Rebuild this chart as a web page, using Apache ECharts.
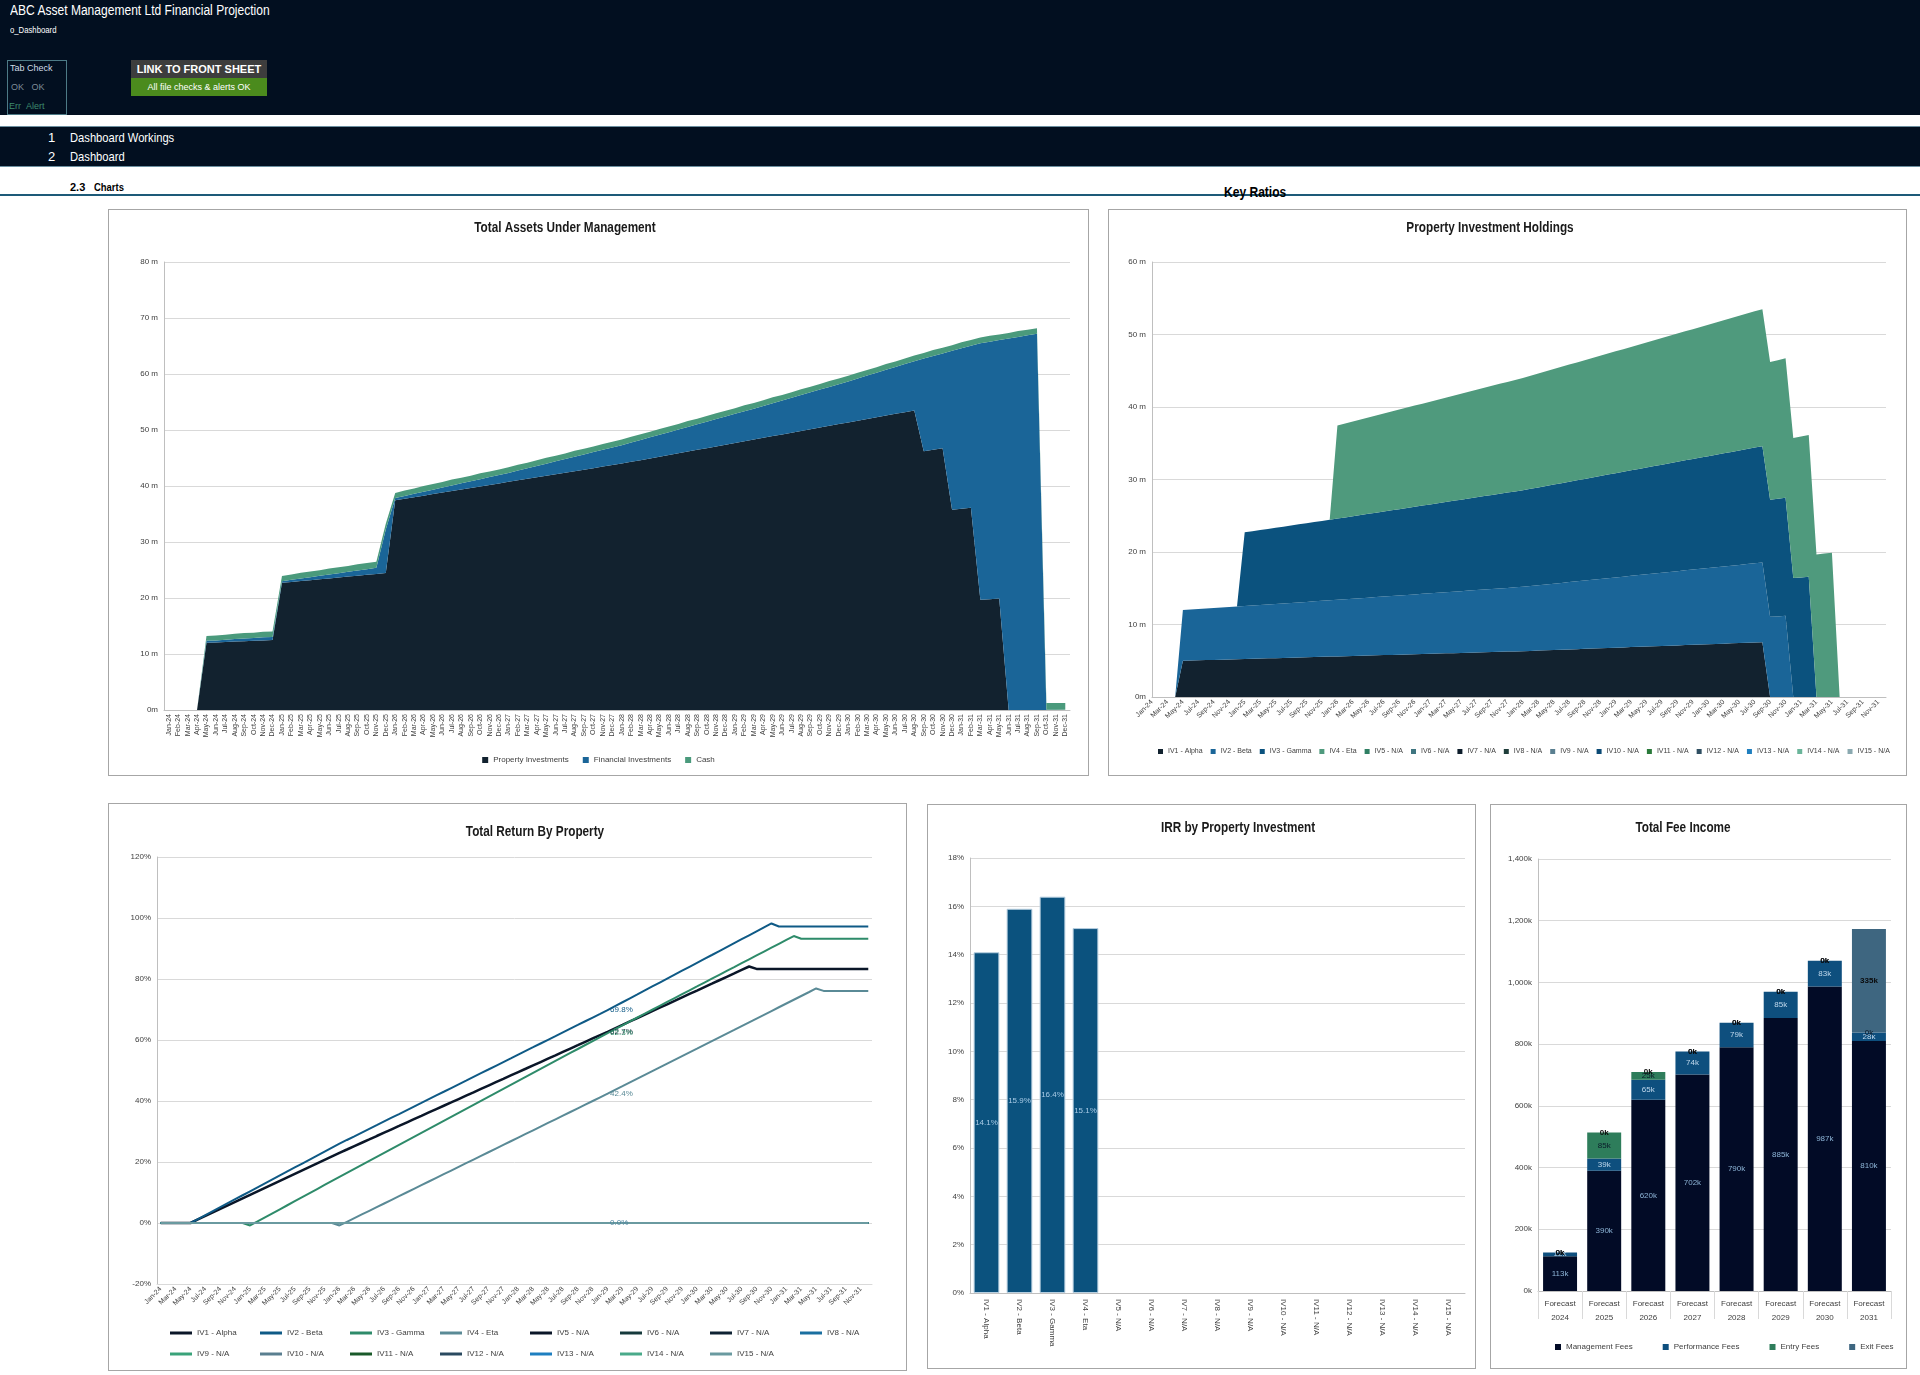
<!DOCTYPE html>
<html><head><meta charset="utf-8">
<script src="https://cdn.jsdelivr.net/npm/echarts@6/dist/echarts.min.js"></script>
<style>
body{margin:0;width:1920px;height:1375px;background:#fff;position:relative;overflow:hidden;font-family:"Liberation Sans",Arial,sans-serif;}
.abs{position:absolute;white-space:nowrap;}
.nar{transform:scaleX(0.86);transform-origin:0 0;}
.box{position:absolute;border:1px solid #a6a6a6;box-sizing:border-box;background:#fff;}
</style></head><body>
<div class="abs" style="left:0;top:0;width:1920px;height:115px;background:#020f20;"></div>
<div class="abs nar" style="left:10px;top:2px;font-size:14px;color:#fff;">ABC Asset Management Ltd Financial Projection</div>
<div class="abs nar" style="left:10px;top:25px;font-size:9px;color:#fff;">o_Dashboard</div>
<div class="abs" style="left:7px;top:60px;width:60px;height:55px;border:1px solid #4d7a86;box-sizing:border-box;"></div>
<div class="abs" style="left:10px;top:63px;font-size:9px;color:#d0dce6;">Tab Check</div>
<div class="abs" style="left:11px;top:82px;font-size:9px;color:#7d8b97;">OK&nbsp;&nbsp;&nbsp;OK</div>
<div class="abs" style="left:9px;top:101px;font-size:9px;color:#3d8c6e;">Err&nbsp;&nbsp;Alert</div>
<div class="abs" style="left:131px;top:60px;width:136px;height:18px;background:#3d3d3d;color:#fff;font-weight:bold;font-size:11px;line-height:18px;text-align:center;">LINK TO FRONT SHEET</div>
<div class="abs" style="left:131px;top:78px;width:136px;height:18px;background:#4b8b1d;color:#fff;font-size:9px;line-height:18px;text-align:center;">All file checks &amp; alerts OK</div>
<div class="abs" style="left:0;top:126px;width:1920px;height:41px;background:#020f20;border-top:1px solid #6c8fa0;border-bottom:1px solid #6c8fa0;box-sizing:border-box;"></div>
<div class="abs" style="left:48px;top:130px;font-size:13px;color:#fff;">1</div>
<div class="abs nar" style="left:70px;top:130px;font-size:13px;color:#fff;">Dashboard Workings</div>
<div class="abs" style="left:48px;top:149px;font-size:13px;color:#fff;">2</div>
<div class="abs nar" style="left:70px;top:149px;font-size:13px;color:#fff;">Dashboard</div>
<div class="abs" style="left:70px;top:181px;font-size:11px;font-weight:bold;color:#000;">2.3</div>
<div class="abs nar" style="left:94px;top:181px;font-size:11px;font-weight:bold;color:#000;">Charts</div>
<div class="abs" style="left:0;top:194px;width:1920px;height:2px;background:#1d5a78;"></div>
<div class="abs nar" style="left:1224px;top:184px;font-size:14px;font-weight:bold;color:#000;">Key Ratios</div>

<div class="box" id="c1" style="left:108px;top:209px;width:981px;height:567px;"></div>
<div class="box" id="c2" style="left:1108px;top:209px;width:799px;height:567px;"></div>
<div class="box" id="c3" style="left:108px;top:803px;width:799px;height:568px;"></div>
<div class="box" id="c4" style="left:927px;top:804px;width:549px;height:565px;"></div>
<div class="box" id="c5" style="left:1490px;top:804px;width:417px;height:565px;"></div>

<script>
const FONT = '"Liberation Sans",Arial,sans-serif';

// ---------- categories ----------
const MONTH_NAMES = ['Jan','Feb','Mar','Apr','May','Jun','Jul','Aug','Sep','Oct','Nov','Dec'];
const YEAR_SUFFIXES = ['24','25','26','27','28','29','30','31'];
const MONTH_LABELS = [];
YEAR_SUFFIXES.forEach(y => MONTH_NAMES.forEach(m => MONTH_LABELS.push(m + '-' + y)));

const PROPERTY_NAMES = ['IV1 - Alpha','IV2 - Beta','IV3 - Gamma','IV4 - Eta','IV5 - N/A','IV6 - N/A','IV7 - N/A','IV8 - N/A','IV9 - N/A','IV10 - N/A','IV11 - N/A','IV12 - N/A','IV13 - N/A','IV14 - N/A','IV15 - N/A'];
const AUM_NAMES = ['Property Investments','Financial Investments','Cash'];
const FEE_NAMES = ['Management Fees','Performance Fees','Entry Fees','Exit Fees'];
const FEE_CATS = ['Forecast\n2024','Forecast\n2025','Forecast\n2026','Forecast\n2027','Forecast\n2028','Forecast\n2029','Forecast\n2030','Forecast\n2031'];

// ---------- Total AUM (m) ----------
const AUM_PROPERTY = [
0,0,0,0,12.00,12.07,12.14,12.21,12.28,12.35,12.42,12.49,
22.71,22.87,23.03,23.18,23.34,23.50,23.66,23.82,23.97,24.13,24.29,24.45,
37.46,37.73,38.01,38.28,38.55,38.83,39.10,39.37,39.64,39.92,40.19,40.46,
40.74,41.01,41.28,41.56,41.83,42.10,42.37,42.65,42.92,43.19,43.47,43.74,
44.01,44.32,44.62,44.93,45.23,45.54,45.85,46.15,46.46,46.76,47.07,47.38,
47.68,47.99,48.29,48.60,48.91,49.21,49.52,49.82,50.13,50.44,50.74,51.05,
51.35,51.66,51.97,52.27,52.58,52.88,53.19,53.50,46.20,46.46,46.73,35.74,
35.94,36.13,19.67,19.78,19.89,0,0,0,0,0,0,0];
const AUM_FINANCIAL = [
0,0,0,0,0.40,0.35,0.40,0.45,0.50,0.50,0.55,0.55,
0.30,0.38,0.46,0.54,0.62,0.70,0.78,0.86,0.94,1.02,1.10,7.80,
0.40,0.50,0.60,0.70,0.80,0.90,1.00,1.10,1.20,1.30,1.40,1.50,
1.60,1.74,1.88,2.02,2.16,2.30,2.44,2.58,2.72,2.86,3.00,3.14,
3.28,3.44,3.60,3.76,3.92,4.08,4.24,4.40,4.56,4.72,4.88,5.04,
5.20,5.36,5.52,5.70,5.88,6.06,6.24,6.42,6.60,6.78,6.96,7.14,
7.32,7.53,7.74,7.95,8.16,8.37,8.58,8.79,16.56,16.76,16.95,28.40,
28.66,28.93,45.83,46.00,46.17,66.34,66.62,66.90,67.18,0.05,0.05,0.05];
const AUM_CASH = [
0,0,0,0,0.80,0.90,0.90,0.95,0.95,0.95,1.00,1.00,
0.90,0.95,1.00,1.00,1.00,1.05,1.05,1.05,1.10,1.10,1.10,1.00,
0.90,0.95,0.95,1.00,1.00,1.00,1.05,1.00,1.00,1.05,1.00,1.00,
1.00,1.05,1.00,1.00,1.05,1.00,1.00,1.05,1.00,1.00,1.05,1.00,
1.00,1.05,1.00,1.00,1.05,1.00,1.00,1.05,1.00,1.00,1.05,1.00,
1.00,1.05,1.00,1.00,1.05,1.00,1.00,1.05,1.00,1.00,1.05,1.00,
1.00,1.05,1.00,1.00,1.05,1.00,1.00,1.00,1.00,1.05,1.00,1.00,
1.05,1.00,1.00,1.05,1.00,1.00,1.05,1.00,1.00,1.20,1.20,1.20];

// ---------- Property holdings (m) ----------
const HOLD_IV1 = [
0,0,0,0,5.00,5.03,5.06,5.09,5.12,5.15,5.18,5.21,
5.24,5.27,5.30,5.33,5.36,5.39,5.42,5.45,5.48,5.51,5.54,5.57,
5.60,5.63,5.66,5.69,5.72,5.75,5.78,5.81,5.84,5.87,5.90,5.93,
5.96,5.99,6.02,6.05,6.08,6.11,6.14,6.17,6.20,6.23,6.26,6.29,
6.32,6.36,6.40,6.44,6.48,6.52,6.56,6.60,6.64,6.68,6.72,6.76,
6.80,6.84,6.88,6.92,6.96,7.00,7.04,7.08,7.12,7.16,7.20,7.24,
7.28,7.32,7.36,7.40,7.44,7.48,7.52,7.56,0,0,0,0,
0,0,0,0,0,0,0,0,0,0,0,0];
const HOLD_IV2 = [
0,0,0,0,7.00,7.04,7.08,7.12,7.16,7.20,7.24,7.28,
7.32,7.36,7.40,7.44,7.48,7.52,7.56,7.60,7.64,7.68,7.72,7.76,
7.80,7.85,7.89,7.94,7.98,8.03,8.07,8.12,8.16,8.21,8.25,8.30,
8.34,8.39,8.43,8.48,8.52,8.57,8.61,8.66,8.70,8.75,8.79,8.84,
8.88,8.95,9.02,9.08,9.15,9.22,9.29,9.36,9.42,9.49,9.56,9.63,
9.70,9.76,9.83,9.90,9.97,10.04,10.10,10.17,10.24,10.31,10.38,10.44,
10.51,10.58,10.65,10.72,10.78,10.85,10.92,10.99,11.06,11.12,11.19,0,
0,0,0,0,0,0,0,0,0,0,0,0];
const HOLD_IV3 = [
0,0,0,0,0,0,0,0,0,0,0,0,
10.15,10.24,10.33,10.41,10.50,10.59,10.68,10.77,10.85,10.94,11.03,11.12,
11.21,11.29,11.38,11.47,11.56,11.65,11.73,11.82,11.91,12.00,12.09,12.17,
12.26,12.35,12.44,12.53,12.61,12.70,12.79,12.88,12.97,13.05,13.14,13.23,
13.32,13.41,13.49,13.58,13.67,13.76,13.85,13.93,14.02,14.11,14.20,14.29,
14.37,14.46,14.55,14.64,14.73,14.81,14.90,14.99,15.08,15.17,15.25,15.34,
15.43,15.52,15.61,15.69,15.78,15.87,15.96,16.05,16.13,16.22,16.31,16.40,
16.49,16.57,0,0,0,0,0,0,0,0,0,0];
const HOLD_IV4 = [
0,0,0,0,0,0,0,0,0,0,0,0,
0,0,0,0,0,0,0,0,0,0,0,0,
12.85,12.96,13.07,13.18,13.29,13.40,13.51,13.62,13.73,13.84,13.95,14.06,
14.17,14.28,14.39,14.50,14.61,14.72,14.83,14.94,15.05,15.16,15.27,15.38,
15.49,15.60,15.71,15.82,15.93,16.04,16.15,16.26,16.37,16.48,16.59,16.70,
16.81,16.92,17.03,17.14,17.25,17.36,17.47,17.58,17.69,17.80,17.91,18.02,
18.13,18.24,18.35,18.46,18.57,18.68,18.79,18.90,19.01,19.12,19.23,19.34,
19.45,19.56,19.67,19.78,19.89,0,0,0,0,0,0,0];
const ZERO_MONTHLY = [
0,0,0,0,0,0,0,0,0,0,0,0, 0,0,0,0,0,0,0,0,0,0,0,0,
0,0,0,0,0,0,0,0,0,0,0,0, 0,0,0,0,0,0,0,0,0,0,0,0,
0,0,0,0,0,0,0,0,0,0,0,0, 0,0,0,0,0,0,0,0,0,0,0,0,
0,0,0,0,0,0,0,0,0,0,0,0, 0,0,0,0,0,0,0,0,0,0,0,0];

// ---------- Total return (%) ----------
const RET_IV1 = [
0,0,0,0,0,1.15,2.30,3.45,4.60,5.75,6.90,8.05,
9.20,10.35,11.50,12.65,13.80,14.95,16.10,17.25,18.40,19.55,20.70,21.85,
23.00,24.10,25.21,26.31,27.41,28.52,29.62,30.72,31.82,32.93,34.03,35.13,
36.24,37.34,38.44,39.54,40.65,41.75,42.85,43.96,45.06,46.16,47.26,48.37,
49.47,50.57,51.68,52.78,53.88,54.98,56.09,57.19,58.29,59.40,60.50,61.60,
62.70,63.83,64.95,66.08,67.20,68.33,69.46,70.58,71.71,72.83,73.96,75.09,
76.21,77.34,78.46,79.59,80.72,81.84,82.97,84.10,83.30,83.30,83.30,83.30,
83.30,83.30,83.30,83.30,83.30,83.30,83.30,83.30,83.30,83.30,83.30,83.30];
const RET_IV2 = [
0,0,0,0,0,1.30,2.60,3.90,5.20,6.50,7.80,9.10,
10.40,11.70,13.00,14.30,15.60,16.90,18.20,19.50,20.80,22.10,23.40,24.70,
26.00,27.22,28.43,29.65,30.87,32.08,33.30,34.52,35.73,36.95,38.17,39.38,
40.60,41.82,43.03,44.25,45.47,46.68,47.90,49.12,50.33,51.55,52.77,53.98,
55.20,56.42,57.63,58.85,60.07,61.28,62.50,63.72,64.93,66.15,67.37,68.58,
69.80,71.09,72.38,73.67,74.96,76.26,77.55,78.84,80.13,81.42,82.71,84.00,
85.29,86.58,87.87,89.17,90.46,91.75,93.04,94.33,95.62,96.91,98.20,97.20,
97.20,97.20,97.20,97.20,97.20,97.20,97.20,97.20,97.20,97.20,97.20,97.20];
const RET_IV3 = [
0,0,0,0,0,0,0,0,0,0,0,0,
-0.80,0.50,1.83,3.16,4.49,5.82,7.15,8.48,9.81,11.14,12.47,13.80,
15.13,16.44,17.75,19.06,20.37,21.68,22.99,24.30,25.61,26.92,28.23,29.54,
30.85,32.16,33.47,34.78,36.09,37.40,38.71,40.02,41.33,42.64,43.95,45.26,
46.57,47.88,49.19,50.50,51.81,53.12,54.43,55.74,57.05,58.36,59.67,60.98,
62.29,63.56,64.83,66.11,67.38,68.65,69.92,71.19,72.47,73.74,75.01,76.28,
77.55,78.83,80.10,81.37,82.64,83.91,85.19,86.46,87.73,89.00,90.27,91.55,
92.82,94.09,93.20,93.20,93.20,93.20,93.20,93.20,93.20,93.20,93.20,93.20];
const RET_IV4 = [
0,0,0,0,0,0,0,0,0,0,0,0,
0,0,0,0,0,0,0,0,0,0,0,0,
-0.80,0.40,1.60,2.80,4.00,5.20,6.40,7.60,8.80,10.00,11.20,12.40,
13.60,14.80,16.00,17.20,18.40,19.60,20.80,22.00,23.20,24.40,25.60,26.80,
28.00,29.20,30.40,31.60,32.80,34.00,35.20,36.40,37.60,38.80,40.00,41.20,
42.40,43.63,44.86,46.10,47.33,48.56,49.79,51.02,52.26,53.49,54.72,55.95,
57.18,58.42,59.65,60.88,62.11,63.34,64.58,65.81,67.04,68.27,69.50,70.74,
71.97,73.20,74.43,75.66,76.90,76.10,76.10,76.10,76.10,76.10,76.10,76.10];
const RETURN_LABEL_MONTH = 'Jan-29';

// ---------- IRR (%) ----------
const IRR_VALUES = [14.1,15.9,16.4,15.1,0,0,0,0,0,0,0,0,0,0,0];

// ---------- Fee income (k) ----------
const FEE_MGMT  = [113,390,620,702,790,885,987,810];
const FEE_PERF  = [12,39,65,74,79,85,83,28];
const FEE_ENTRY = [0,85,25,0,0,0,0,0];
const FEE_EXIT  = [0,0,0,0,0,0,0,335];

// ---------- styles ----------
const AUM_COLORS = ['#12222f','#1a6598','#4a9a7c'];
const HOLD_COLORS = ['#12222f','#1a6598','#0b527e','#4f9a7d','#2f7f63','#3f7580','#0d1d2b','#1f3d3a','#5a7f90','#0b4a75','#2a7a3a','#2f4f62','#1f7fbf','#6ab59a','#8aa9b0'];
const RET_COLORS = ['#0a1628','#0f5a86','#2e8b6a','#5a8a96','#0a1628','#163a3c','#0e2233','#1a6fa0','#3aa37a','#5a7f90','#1a5a2a','#2a4a60','#1e7fc0','#4aaa8a','#6a9aa0'];
const FEE_COLORS = ['#020b26','#0e4f7e','#2e7d5b','#3e6680'];
const AXIS_LBL = {fontFamily: FONT, fontSize: 8, color: '#404040'};
const GRID_LINE = {lineStyle: {color: '#d9d9d9', width: 1}};

function titleGraphic(text, x, y) {
  return [{type: 'text', x: x, y: y, scaleX: 0.84, style: {text: text, fontFamily: FONT, fontWeight: 'bold', fontSize: 14, fill: '#1a1a1a', textAlign: 'center', textVerticalAlign: 'middle'}}];
}
function mFmt(v) { return v === 0 ? '0m' : v + ' m'; }

// ---------- Chart 1: Total AUM ----------
const c1 = echarts.init(document.getElementById('c1'));
const aumData = [AUM_PROPERTY, AUM_FINANCIAL, AUM_CASH];
c1.setOption({
  animation: false,
  graphic: titleGraphic('Total Assets Under Management', 456, 18),
  grid: {left: 55, top: 52, right: 18, bottom: 65},
  legend: {data: AUM_NAMES, left: 'center', top: 541, icon: 'rect', itemWidth: 6, itemHeight: 6, itemGap: 14, textStyle: {fontFamily: FONT, fontSize: 8, color: '#404040'}},
  xAxis: {type: 'category', data: MONTH_LABELS, boundaryGap: true,
    axisLine: {lineStyle: {color: '#bfbfbf'}}, axisTick: {show: false},
    axisLabel: Object.assign({}, AXIS_LBL, {rotate: 90, interval: 0, fontSize: 7, margin: 4})},
  yAxis: {type: 'value', min: 0, max: 80, interval: 10,
    axisLine: {show: true, lineStyle: {color: '#bfbfbf'}}, splitLine: GRID_LINE,
    axisLabel: Object.assign({}, AXIS_LBL, {formatter: mFmt, margin: 6})},
  series: AUM_NAMES.map((n, k) => ({
    name: n, type: 'line', stack: 'aum', data: aumData[k], symbol: 'none',
    lineStyle: {width: 0}, areaStyle: {color: AUM_COLORS[k], opacity: 1}, itemStyle: {color: AUM_COLORS[k]}
  }))
});

// ---------- Chart 2: Property holdings ----------
const c2 = echarts.init(document.getElementById('c2'));
const holdData = [HOLD_IV1, HOLD_IV2, HOLD_IV3, HOLD_IV4];
c2.setOption({
  animation: false,
  graphic: titleGraphic('Property Investment Holdings', 381, 18),
  grid: {left: 43, top: 52, right: 20, bottom: 78},
  legend: {data: PROPERTY_NAMES, left: 44, top: 533, width: 760, icon: 'rect', itemWidth: 5, itemHeight: 5, itemGap: 8, textStyle: {fontFamily: FONT, fontSize: 7, color: '#404040'}},
  xAxis: {type: 'category', data: MONTH_LABELS, boundaryGap: false,
    axisLine: {lineStyle: {color: '#bfbfbf'}}, axisTick: {show: false},
    axisLabel: Object.assign({}, AXIS_LBL, {rotate: 45, interval: 1, fontSize: 7, margin: 4})},
  yAxis: {type: 'value', min: 0, max: 60, interval: 10,
    axisLine: {show: true, lineStyle: {color: '#bfbfbf'}}, splitLine: GRID_LINE,
    axisLabel: Object.assign({}, AXIS_LBL, {formatter: mFmt, margin: 6})},
  series: PROPERTY_NAMES.map((n, k) => ({
    name: n, type: 'line', stack: 'hold', data: k < 4 ? holdData[k] : ZERO_MONTHLY, symbol: 'none',
    lineStyle: {width: 0}, areaStyle: {color: HOLD_COLORS[k], opacity: 1}, itemStyle: {color: HOLD_COLORS[k]}
  }))
});

// ---------- Chart 3: Total return ----------
const c3 = echarts.init(document.getElementById('c3'));
const retData = [RET_IV1, RET_IV2, RET_IV3, RET_IV4];
const labelIdx = MONTH_LABELS.indexOf(RETURN_LABEL_MONTH);
const labelSeries = [0, 1, 2, 3, 14];
c3.setOption({
  animation: false,
  graphic: titleGraphic('Total Return By Property', 426, 28),
  grid: {left: 48, top: 53, right: 34, bottom: 86},
  legend: {data: PROPERTY_NAMES, left: 56, top: 515, width: 730, icon: 'rect', itemWidth: 22, itemHeight: 3, itemGap: 3,
    textStyle: {fontFamily: FONT, fontSize: 8, color: '#404040', width: 60, lineHeight: 18}},
  xAxis: {type: 'category', data: MONTH_LABELS, boundaryGap: true,
    axisLine: {onZero: false, lineStyle: {color: '#d9d9d9'}}, axisTick: {show: false},
    axisLabel: Object.assign({}, AXIS_LBL, {rotate: 45, interval: 1, fontSize: 7, margin: 4})},
  yAxis: {type: 'value', min: -20, max: 120, interval: 20,
    axisLine: {show: true, lineStyle: {color: '#bfbfbf'}}, splitLine: GRID_LINE,
    axisLabel: Object.assign({}, AXIS_LBL, {formatter: v => v + '%', margin: 6})},
  series: PROPERTY_NAMES.map((n, k) => {
    const src = k < 4 ? retData[k] : ZERO_MONTHLY;
    const withLabel = labelSeries.indexOf(k) >= 0;
    const data = src.map((v, i) => (withLabel && i === labelIdx) ? {
      value: v, symbol: 'circle', symbolSize: 1,
      label: {show: true, position: 'right', distance: 2, fontFamily: FONT, fontSize: 8,
        color: k === 14 ? '#4f86a0' : (k === 0 ? '#1a2a3a' : RET_COLORS[k]),
        formatter: p => p.value.toFixed(1) + '%'}
    } : v);
    return {name: n, type: 'line', data: data, symbol: 'none', showSymbol: true, showAllSymbol: true,
      lineStyle: {width: k === 0 ? 2.5 : 2, color: RET_COLORS[k]}, itemStyle: {color: RET_COLORS[k]}, z: k === 14 ? 5 : 2};
  })
});

// ---------- Chart 4: IRR ----------
const c4 = echarts.init(document.getElementById('c4'));
c4.setOption({
  animation: false,
  graphic: titleGraphic('IRR by Property Investment', 310, 23),
  grid: {left: 42, top: 53, right: 10, bottom: 75},
  xAxis: {type: 'category', data: PROPERTY_NAMES,
    axisLine: {lineStyle: {color: '#bfbfbf'}}, axisTick: {show: false},
    axisLabel: Object.assign({}, AXIS_LBL, {rotate: -90, interval: 0, margin: 6})},
  yAxis: {type: 'value', min: 0, max: 18, interval: 2,
    axisLine: {show: true, lineStyle: {color: '#bfbfbf'}}, splitLine: GRID_LINE,
    axisLabel: Object.assign({}, AXIS_LBL, {formatter: v => v + '%', margin: 6})},
  series: [{type: 'bar', barCategoryGap: '22%',
    data: IRR_VALUES.map(v => v ? v : {value: v, itemStyle: {borderWidth: 0}}),
    itemStyle: {color: '#0b527e', borderColor: '#b7cfe0', borderWidth: 1},
    label: {show: true, position: 'inside', fontFamily: FONT, fontSize: 8, color: '#a9cbe6',
      formatter: p => p.value ? p.value.toFixed(1) + '%' : ''}}]
});

// ---------- Chart 5: Fee income ----------
const c5 = echarts.init(document.getElementById('c5'));
const feeData = [FEE_MGMT, FEE_PERF, FEE_ENTRY, FEE_EXIT];
const feeLabelColor = ['#8db4d6', '#c0d8ec', '#0a1a2a', '#0a0a0a'];
c5.setOption({
  animation: false,
  graphic: titleGraphic('Total Fee Income', 192, 23),
  grid: {left: 47, top: 54, right: 15, bottom: 77},
  legend: {data: FEE_NAMES, left: 59, top: 533, icon: 'rect', itemWidth: 6, itemHeight: 6, itemGap: 30, textStyle: {fontFamily: FONT, fontSize: 8, color: '#404040'}},
  xAxis: {type: 'category', data: FEE_CATS,
    axisLine: {lineStyle: {color: '#bfbfbf'}},
    axisTick: {show: true, length: 28, interval: 0, lineStyle: {color: '#d9d9d9'}},
    axisLabel: Object.assign({}, AXIS_LBL, {interval: 0, lineHeight: 14, margin: 6})},
  yAxis: {type: 'value', min: 0, max: 1400, interval: 200,
    axisLine: {show: true, lineStyle: {color: '#bfbfbf'}}, splitLine: GRID_LINE,
    axisLabel: Object.assign({}, AXIS_LBL, {formatter: v => v.toLocaleString('en-US') + 'k', margin: 6})},
  series: FEE_NAMES.map((n, k) => ({
    name: n, type: 'bar', stack: 'fee', data: feeData[k], barCategoryGap: '23%',
    itemStyle: {color: FEE_COLORS[k]},
    label: {show: true, position: 'inside', fontFamily: FONT, fontSize: 8, color: feeLabelColor[k],
      fontWeight: k === 3 ? 'bold' : 'normal', formatter: p => p.value + 'k'}
  }))
});
</script>
</body></html>
